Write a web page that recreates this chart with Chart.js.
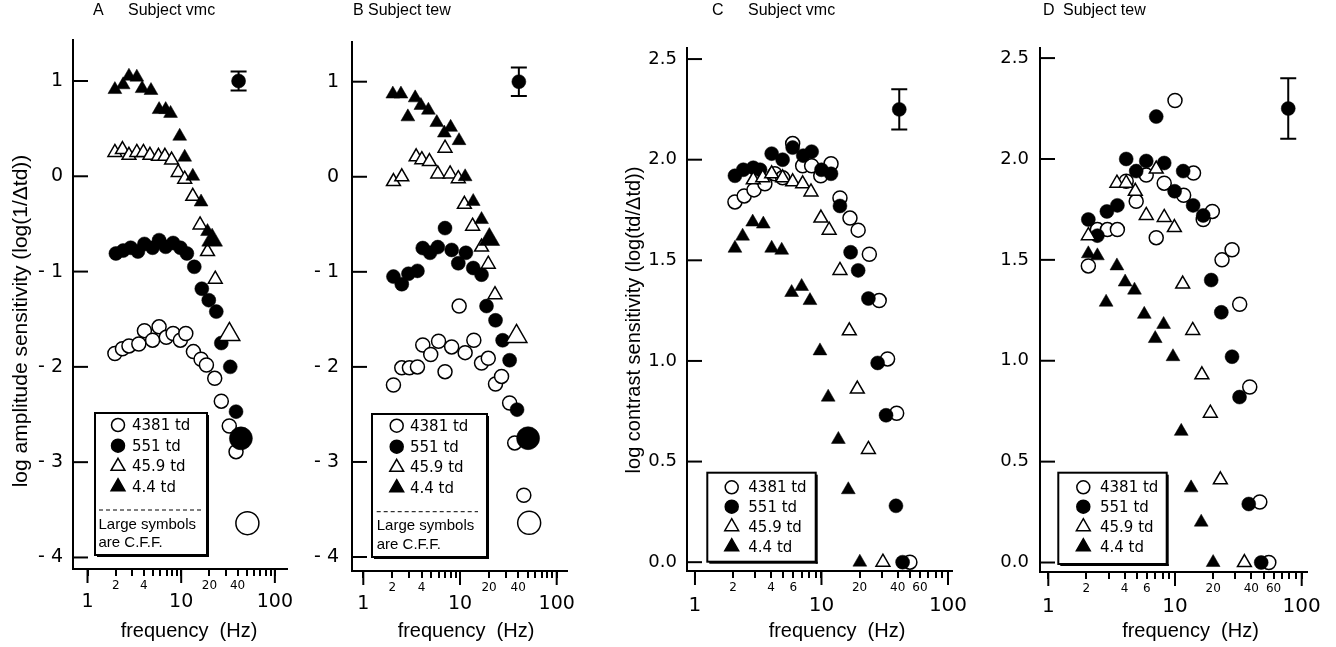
<!DOCTYPE html>
<html><head><meta charset="utf-8">
<script src="https://cdn.jsdelivr.net/npm/chart.js@4.4.1/dist/chart.umd.min.js"></script>
<style>
html,body{margin:0;padding:0;background:#fff;}
#wrap{position:relative;width:1336px;height:647px;overflow:hidden;background:#fff;}
#wrap canvas{position:absolute;top:0;}
</style></head><body>
<div id="wrap">
<canvas id="cA" width="300" height="647" style="left:0px"></canvas>
<canvas id="cB" width="300" height="647" style="left:300px"></canvas>
<canvas id="cC" width="380" height="647" style="left:600px"></canvas>
<canvas id="cD" width="356" height="647" style="left:980px"></canvas>
</div>
<script>
// ---------- labels ----------
const seriesLabels = ['4381 td', '551 td', '45.9 td', '4.4 td'];
const xTickVals = [1,2,3,4,5,6,7,8,9,10,20,30,40,50,60,70,80,90,100];
const xMajorVals = [1,10,100];
const minorLabelsAB = [2,4,20,40];
const minorLabelsCD = [2,4,6,20,40,60];
const yTicksAB = [-4,-3,-2,-1,0,1];
const yTicksCD = [0,0.5,1,1.5,2,2.5];

// ---------- Panel A (subject vmc, amplitude sensitivity) ----------
const A_f4381 = [1.96,2.36,2.77,3.53,4.05,4.95,5.81,6.93,8.2,9.8,11.2,13.5,16.3,18.6,22.8,26.8,32.6,38.5];
const A_v4381 = [-1.86,-1.81,-1.78,-1.76,-1.62,-1.72,-1.58,-1.69,-1.65,-1.72,-1.65,-1.84,-1.92,-1.98,-2.12,-2.36,-2.62,-2.89];
const A_f551 = [2.01,2.4,2.89,3.45,4.05,4.95,5.81,6.83,8.2,9.8,11.5,13.8,16.6,19.7,23.7,26.8,33.4,38.5];
const A_v551 = [-0.81,-0.78,-0.75,-0.79,-0.71,-0.75,-0.67,-0.74,-0.70,-0.75,-0.81,-0.95,-1.18,-1.30,-1.42,-1.75,-2.0,-2.47];
const A_f45 = [1.96,2.36,2.77,3.36,3.95,4.64,5.72,6.7,7.9,9.3,10.9,13.3,15.9,19.1,23.1];
const A_v45 = [0.25,0.28,0.22,0.25,0.25,0.22,0.21,0.21,0.17,0.04,-0.03,-0.21,-0.51,-0.79,-1.08];
const A_f44 = [1.96,2.4,2.77,3.36,3.83,4.76,5.81,6.83,7.7,9.64,10.9,13.3,16.3,19.1];
const A_v44 = [0.91,0.96,1.05,1.04,0.92,0.90,0.70,0.70,0.66,0.42,0.20,0.0,-0.27,-0.58];
const A_cffF = [50.9,43.4,32.7,21.4];     // order: 4381, 551, 45.9, 4.4
const A_cffV = [-3.64,-2.75,-1.66,-0.67];
const A_err = [41,1.0,0.1];               // freq, value, half-range

// ---------- Panel B (subject tew, amplitude sensitivity) ----------
const B_f4381 = [2.05,2.5,3.0,3.63,4.12,4.98,6.0,7.0,8.2,9.8,11.3,13.9,16.7,19.6,23.3,26.9,32.6,36.8,45.7];
const B_v4381 = [-2.19,-2.01,-2.01,-2.0,-1.77,-1.87,-1.73,-2.05,-1.79,-1.36,-1.85,-1.72,-1.96,-1.91,-2.18,-2.10,-2.38,-2.80,-3.35];
const B_f551 = [2.05,2.5,2.93,3.63,4.12,4.9,5.89,7.0,8.2,9.6,11.5,13.7,16.7,18.8,23.3,27.6,32.6,38.9];
const B_v551 = [-1.05,-1.13,-1.02,-0.99,-0.75,-0.80,-0.74,-0.54,-0.77,-0.91,-0.80,-0.96,-1.03,-1.36,-1.51,-1.72,-1.93,-2.45];
const B_f45 = [2.05,2.5,3.52,4.03,4.83,5.89,7.0,7.9,9.6,11.1,13.5,16.7,19.6,23.0];
const B_v45 = [-0.05,0.0,0.21,0.18,0.16,0.03,0.30,0.03,-0.02,-0.29,-0.52,-0.74,-0.92,-1.24];
const B_f44 = [2.02,2.45,2.89,3.44,3.94,4.71,5.75,6.89,8.0,9.77,11.3,13.7,16.7];
const B_v44 = [0.87,0.87,0.63,0.83,0.75,0.70,0.57,0.46,0.52,0.38,0.0,-0.26,-0.45];
const B_cffF = [51.9,50.6,38.4,20.1];
const B_cffV = [-3.64,-2.75,-1.68,-0.66];
const B_err = [40.6,1.0,0.15];

// ---------- Panel C (subject vmc, contrast sensitivity) ----------
const C_f4381 = [2.07,2.45,2.93,3.57,4.28,4.93,5.92,7.1,8.36,9.87,11.9,14.0,16.8,19.5,23.9,28.6,33.3,39.3,50.0];
const C_v4381 = [1.79,1.82,1.85,1.88,1.93,1.91,2.08,1.97,1.97,1.92,1.98,1.81,1.71,1.65,1.53,1.30,1.01,0.74,0.0];
const C_f551 = [2.07,2.41,2.89,3.27,4.04,4.93,5.92,7.18,8.36,10.0,11.9,14.0,17.0,19.5,23.5,27.8,32.4,38.8,43.8];
const C_v551 = [1.92,1.95,1.96,1.95,2.03,2.0,2.06,2.02,2.04,1.95,1.93,1.77,1.54,1.45,1.31,0.99,0.73,0.28,0.0];
const C_f45 = [2.89,3.43,4.04,4.93,5.92,7.1,8.26,9.9,11.5,14.0,16.6,19.2,23.5,30.6];
const C_v45 = [1.90,1.91,1.93,1.91,1.89,1.88,1.84,1.71,1.65,1.45,1.15,0.86,0.56,0.0];
const C_f44 = [2.07,2.38,2.86,3.47,4.04,4.85,5.81,6.97,8.11,9.73,11.3,13.6,16.3,20.1];
const C_v44 = [1.56,1.62,1.69,1.68,1.56,1.55,1.34,1.37,1.30,1.05,0.82,0.61,0.36,0.0];
const C_err = [41.2,2.25,0.1];

// ---------- Panel D (subject tew, contrast sensitivity) ----------
const D_f4381 = [2.07,2.44,2.93,3.51,4.12,4.94,5.93,7.11,8.22,10.0,11.7,14.0,16.7,19.7,23.5,28.2,32.4,38.9,46.7,55.0];
const D_v4381 = [1.47,1.65,1.65,1.65,1.89,1.79,1.92,1.61,1.88,2.29,1.82,1.93,1.70,1.74,1.50,1.55,1.28,0.87,0.30,0.0];
const D_f551 = [2.07,2.44,2.9,3.51,4.12,4.94,5.93,7.11,8.22,9.93,11.6,13.9,16.7,19.3,23.2,28.2,32.3,38.2,47.9];
const D_v551 = [1.70,1.62,1.74,1.77,2.0,1.94,1.99,2.21,1.98,1.84,1.94,1.77,1.72,1.40,1.24,1.02,0.82,0.29,0.0];
const D_f45 = [2.07,3.48,4.12,4.86,5.93,7.11,8.22,9.89,11.5,13.8,16.3,19.0,22.8,35.3];
const D_v45 = [1.62,1.88,1.88,1.84,1.72,1.95,1.71,1.66,1.38,1.15,0.93,0.74,0.41,0.0];
const D_f44 = [2.07,2.44,2.86,3.48,4.04,4.79,5.72,6.98,8.13,9.64,11.2,13.4,16.1,20.0];
const D_v44 = [1.53,1.52,1.29,1.47,1.39,1.35,1.23,1.11,1.18,1.02,0.65,0.37,0.20,0.0];
const D_err = [78.3,2.25,0.15];

// ---------- styling / layout (page coordinates) ----------
const SANS = '"Liberation Sans", Arial, Helvetica, sans-serif';
const DEJA = '"DejaVu Sans", sans-serif';
const H = 647;
const symStyles = [['circle',false],['circle',true],['triangle',false],['triangle',true]];

const panels = [
 {id:'A', canvas:'cA', left:0, width:300, caL:73, caR:290, caT:40, caB:569, xH:22, xMin:0.723, xMax:133.1, yMin:-4.121, yMax:1.430,
  yTicks:yTicksAB, yFont:19, yPad:10, majFont:19, minorLabels:minorLabelsAB, yFmt:v=>v<0?'- '+Math.abs(v):String(v),
  f:[A_f4381,A_f551,A_f45,A_f44], v:[A_v4381,A_v551,A_v45,A_v44], cffF:A_cffF, cffV:A_cffV, err:A_err,
  letter:'A', subject:'Subject vmc', tL:93, tS:128, xtX:189, ytitle:'log amplitude sensitivity (log(1/\u0394td))', ytX:21, ytY:321, ytFont:21,
  legend:{x:95,y:413,w:112,h:142,symX:118,textX:132,rows:[425,445.7,466.3,486.7],dashY:510,dx1:99,dx2:202,cffY:[525,543.3],cffX:98.5}},
 {id:'B', canvas:'cB', left:300, width:300, caL:352, caR:567, caT:42, caB:571, xH:22, xMin:0.764, xMax:127.8, yMin:-4.147, yMax:1.4176,
  yTicks:yTicksAB, yFont:19, yPad:13, majFont:19, minorLabels:minorLabelsAB, yFmt:v=>v<0?'- '+Math.abs(v):String(v),
  f:[B_f4381,B_f551,B_f45,B_f44], v:[B_v4381,B_v551,B_v45,B_v44], cffF:B_cffF, cffV:B_cffV, err:B_err,
  letter:'B', subject:'Subject tew', tL:353, tS:368, xtX:466, ytitle:null,
  legend:{x:372,y:414,w:115,h:143,symX:396.7,textX:410,rows:[425.7,446.7,467.3,487.7],dashY:511.7,dx1:376.7,dx2:478,cffY:[525.7,545],cffX:376.7}},
 {id:'C', canvas:'cC', left:600, width:380, caL:687, caR:952, caT:48, caB:571, xH:23, xMin:0.865, xMax:107.6, yMin:-0.0438, yMax:2.555,
  yTicks:yTicksCD, yFont:18, yPad:10, majFont:20, minorLabels:minorLabelsCD, yFmt:v=>v.toFixed(1),
  f:[C_f4381,C_f551,C_f45,C_f44], v:[C_v4381,C_v551,C_v45,C_v44], cffF:null, cffV:null, err:C_err,
  letter:'C', subject:'Subject vmc', tL:712, tS:748, xtX:837, ytitle:'log contrast sensitivity (log(td/\u0394td))', ytX:634, ytY:320, ytFont:20,
  legend:{x:707.3,y:472.7,w:108.4,h:89,symX:731.7,textX:748.3,rows:[487.3,506.7,526.7,546.7]}},
 {id:'D', canvas:'cD', left:980, width:356, caL:1040, caR:1307, caT:48, caB:572, xH:23, xMin:0.860, xMax:110.1, yMin:-0.047, yMax:2.550,
  yTicks:yTicksCD, yFont:18, yPad:11, majFont:20, minorLabels:minorLabelsCD, yFmt:v=>v.toFixed(1),
  f:[D_f4381,D_f551,D_f45,D_f44], v:[D_v4381,D_v551,D_v45,D_v44], cffF:null, cffV:null, err:D_err,
  letter:'D', subject:'Subject tew', tL:1043, tS:1063, xtX:1190.5, ytitle:null,
  legend:{x:1058.3,y:472.7,w:108.4,h:91.3,symX:1083.3,textX:1100,rows:[487.3,506.7,526.7,546.7]}}
];

function drawSym(ctx, style, filled, cx, cy, r) {
  ctx.beginPath();
  if (style === 'circle') ctx.arc(cx, cy, r, 0, 2*Math.PI);
  else {
    for (let k=0;k<3;k++){ const a=k*2*Math.PI/3; const px=cx+Math.sin(a)*r, py=cy-Math.cos(a)*r; if(k) ctx.lineTo(px,py); else ctx.moveTo(px,py); }
    ctx.closePath();
  }
  ctx.fillStyle = filled ? '#000' : '#fff'; ctx.fill();
  ctx.lineWidth = 1.5; ctx.strokeStyle = '#000'; ctx.stroke();
}

function makeAnnot(p) {
  return {
    id: 'annot' + p.id,
    afterDraw(chart) {
      const {ctx, chartArea: ca} = chart;
      const x = chart.scales.x, y = chart.scales.y;
      ctx.save();
      ctx.strokeStyle = '#000'; ctx.fillStyle = '#000'; ctx.lineWidth = 2;
      // inward y ticks
      y.ticks.forEach(t => { const py = y.getPixelForValue(t.value); ctx.beginPath(); ctx.moveTo(ca.left, py); ctx.lineTo(ca.left + 15, py); ctx.stroke(); });
      // long decade ticks
      xMajorVals.forEach(v => { const px = x.getPixelForValue(v); ctx.beginPath(); ctx.moveTo(px, ca.bottom); ctx.lineTo(px, ca.bottom + 14); ctx.stroke(); });
      // error bar whiskers
      const ex = x.getPixelForValue(p.err[0]);
      const et = y.getPixelForValue(p.err[1] + p.err[2]);
      const eb = y.getPixelForValue(p.err[1] - p.err[2]);
      ctx.beginPath();
      ctx.moveTo(ex, et); ctx.lineTo(ex, eb);
      ctx.moveTo(ex-8, et); ctx.lineTo(ex+8, et);
      ctx.moveTo(ex-8, eb); ctx.lineTo(ex+8, eb);
      ctx.stroke();

      // page-coordinate decorations
      ctx.translate(-p.left, 0);
      const L = p.legend;
      ctx.fillStyle = '#fff'; ctx.fillRect(L.x, L.y, L.w, L.h);
      ctx.fillStyle = '#000';
      ctx.fillRect(L.x + L.w, L.y + 2, 2, L.h);
      ctx.fillRect(L.x + 2, L.y + L.h, L.w, 2);
      ctx.lineWidth = 2; ctx.strokeRect(L.x, L.y, L.w, L.h);
      ctx.textBaseline = 'middle'; ctx.textAlign = 'left';
      seriesLabels.forEach((lab, i) => {
        const st = symStyles[i];
        drawSym(ctx, st[0], st[1], L.symX, L.rows[i], st[0]==='circle'?6.5:8);
        ctx.fillStyle = '#000'; ctx.font = '15px ' + DEJA;
        ctx.fillText(lab, L.textX, L.rows[i] + 1);
      });
      if (L.dashY) {
        ctx.save(); ctx.setLineDash([4,3]); ctx.lineWidth = 1;
        ctx.beginPath(); ctx.moveTo(L.dx1, L.dashY); ctx.lineTo(L.dx2, L.dashY); ctx.stroke(); ctx.restore();
        ctx.font = '15px ' + SANS; ctx.fillStyle = '#000';
        ctx.fillText('Large symbols', L.cffX, L.cffY[0]);
        ctx.fillText('are C.F.F.', L.cffX, L.cffY[1]);
      }
      // panel title
      ctx.fillStyle = '#000'; ctx.font = '16px ' + SANS; ctx.textBaseline = 'alphabetic'; ctx.textAlign = 'left';
      ctx.fillText(p.letter, p.tL, 15);
      ctx.fillText(p.subject, p.tS, 15);
      // x title
      ctx.font = '20px ' + SANS; ctx.textAlign = 'center'; ctx.textBaseline = 'middle';
      ctx.fillText('frequency  (Hz)', p.xtX, 631);
      // y title
      if (p.ytitle) {
        ctx.save(); ctx.translate(p.ytX, p.ytY); ctx.rotate(-Math.PI/2);
        ctx.font = p.ytFont + 'px ' + SANS; ctx.fillText(p.ytitle, 0, 0); ctx.restore();
      }
      ctx.restore();
    }
  };
}

function pts(fArr, vArr) { return fArr.map((f, i) => ({x: f, y: vArr[i]})); }

function dset(data, st, r) {
  const filled = st[1];
  return { data, pointStyle: st[0], pointRadius: r, pointHoverRadius: r,
    pointBackgroundColor: filled ? '#000' : '#fff', pointBorderColor: '#000',
    pointBorderWidth: filled ? 0.5 : 1.5, showLine: false };
}

Chart.defaults.color = '#000';
Chart.defaults.font.family = SANS;

panels.forEach(p => {
  const datasets = [];
  datasets.push(dset([{x: p.err[0], y: p.err[1]}], ['circle', true], 7));
  if (p.cffF) {
    for (let i = 3; i >= 0; i--) datasets.push(dset([{x: p.cffF[i], y: p.cffV[i]}], symStyles[i], symStyles[i][0]==='circle'?11.5:12));
  }
  // index 0 drawn on top: filled tri, open tri, filled circ, open circ
  for (let i = 3; i >= 0; i--) datasets.push(dset(pts(p.f[i], p.v[i]), symStyles[i], symStyles[i][0]==='circle'?7:8));

  new Chart(document.getElementById(p.canvas), {
    type: 'scatter',
    data: { datasets },
    plugins: [makeAnnot(p)],
    options: {
      responsive: false, animation: false, devicePixelRatio: 1, events: [],
      layout: { padding: { left: 0, top: p.caT, right: p.left + p.width - p.caR, bottom: 0 } },
      plugins: { legend: { display: false }, tooltip: { enabled: false }, title: { display: false } },
      scales: {
        x: { type: 'logarithmic', position: 'bottom', weight: 0, min: p.xMin, max: p.xMax,
          afterBuildTicks: s => { s.ticks = xTickVals.map(v => ({value: v})); },
          afterFit: s => { s.height = p.xH; },
          ticks: { autoSkip: false, maxRotation: 0, minRotation: 0, padding: 3, color: '#000',
            font: { family: DEJA, size: 12 }, callback: v => p.minorLabels.includes(v) ? String(v) : '' },
          grid: { drawOnChartArea: false, drawTicks: true, tickLength: 7, color: '#000', lineWidth: 2 },
          border: { display: true, color: '#000', width: 2 } },
        x2: { type: 'logarithmic', position: 'bottom', weight: 1, min: p.xMin, max: p.xMax,
          afterBuildTicks: s => { s.ticks = xMajorVals.map(v => ({value: v})); },
          afterFit: s => { s.height = H - p.caB - p.xH; },
          ticks: { autoSkip: false, maxRotation: 0, minRotation: 0, padding: 0, color: '#000',
            font: { family: DEJA, size: p.majFont }, callback: v => String(v) },
          grid: { display: false, drawTicks: false },
          border: { display: false } },
        y: { type: 'linear', position: 'left', min: p.yMin, max: p.yMax,
          afterBuildTicks: s => { s.ticks = p.yTicks.map(v => ({value: v})); },
          afterFit: s => { s.width = p.caL - p.left; },
          ticks: { padding: p.yPad, color: '#000', font: { family: DEJA, size: p.yFont }, callback: p.yFmt },
          grid: { drawOnChartArea: false, drawTicks: false },
          border: { display: true, color: '#000', width: 2 } }
      }
    }
  });
});
</script>
</body></html>
